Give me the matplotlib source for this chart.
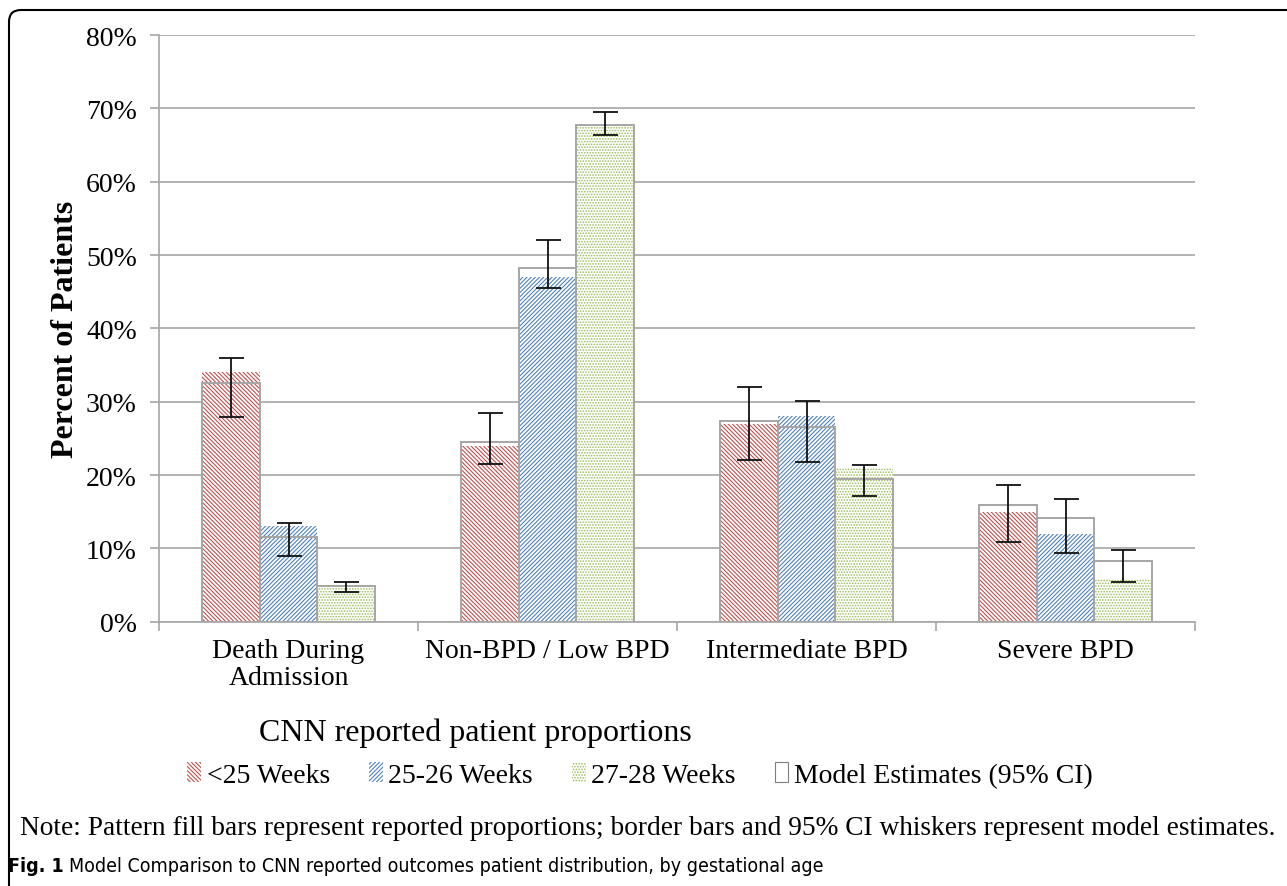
import numpy as np
import matplotlib
matplotlib.use("Agg")
import matplotlib.pyplot as plt
from matplotlib.patches import Patch, FancyBboxPatch


CATEGORIES = ["Death During\nAdmission", "Non-BPD / Low BPD", "Intermediate BPD", "Severe BPD"]
GROUPS = ["<25 Weeks", "25-26 Weeks", "27-28 Weeks"]

# reported proportions (%), pattern fill bars
REPORTED_LT25 = [34.0, 24.0, 27.0, 14.9]
REPORTED_25_26 = [13.0, 47.0, 28.0, 12.0]
REPORTED_27_28 = [4.8, 67.7, 20.9, 5.8]

# model estimates (%), border bars
MODEL_LT25 = [32.5, 24.5, 27.3, 15.9]
MODEL_25_26 = [11.5, 48.2, 26.5, 14.1]
MODEL_27_28 = [4.8, 67.7, 19.5, 8.3]

# 95% CI of the model estimates (%)
CI_LOW_LT25 = [27.9, 21.5, 22.0, 10.8]
CI_HIGH_LT25 = [36.0, 28.5, 32.0, 18.7]
CI_LOW_25_26 = [9.0, 45.5, 21.8, 9.3]
CI_HIGH_25_26 = [13.4, 52.0, 30.1, 16.7]
CI_LOW_27_28 = [4.1, 66.3, 17.1, 5.4]
CI_HIGH_27_28 = [5.4, 69.5, 21.3, 9.8]

YTICKS = [0, 10, 20, 30, 40, 50, 60, 70, 80]

COLORS = ["#c0504d", "#4f81bd", "#9bbb59"]
HATCHES = ["\\" * 8, "/" * 8, "." * 6]
GRID = "#a6a6a6"

W, H = 1287, 887


def fx(px):
    return px / W


def fy(py):
    return 1 - py / H


def main():
    plt.rcParams["hatch.linewidth"] = 0.8
    serif = ["Liberation Serif", "DejaVu Serif"]

    fig = plt.figure(figsize=(W / 100, H / 100), dpi=100)
    ax = fig.add_axes([fx(159), fy(622.7), fx(1195) - fx(159), fy(36) - fy(622.7)])

    reported = [REPORTED_LT25, REPORTED_25_26, REPORTED_27_28]
    model = [MODEL_LT25, MODEL_25_26, MODEL_27_28]
    lows = [CI_LOW_LT25, CI_LOW_25_26, CI_LOW_27_28]
    highs = [CI_HIGH_LT25, CI_HIGH_25_26, CI_HIGH_27_28]

    x = np.arange(len(CATEGORIES))
    width = 0.222

    for i in range(3):
        pos = x + (i - 1) * width
        ax.bar(pos, reported[i], width=width, color="white", edgecolor=COLORS[i],
               hatch=HATCHES[i], linewidth=0, zorder=2)
        ax.bar(pos, model[i], width=width, fill=False, edgecolor=GRID,
               linewidth=1.4, zorder=3)
        m = np.array(model[i])
        yerr = [m - np.array(lows[i]), np.array(highs[i]) - m]
        ax.errorbar(pos, m, yerr=yerr, fmt="none", ecolor="#111111",
                    elinewidth=1.3, capsize=9, capthick=1.3, zorder=4)

    ax.set_xlim(-0.5, len(CATEGORIES) - 0.5)
    ax.set_ylim(0, 80)
    ax.set_yticks(YTICKS)
    ax.set_yticklabels([f"{t}%" for t in YTICKS], fontfamily=serif, fontsize=20)
    ax.set_xticks(x)
    ax.set_xticklabels(CATEGORIES, fontfamily=serif, fontsize=20, linespacing=1.1)
    ax.set_xticks(np.arange(len(CATEGORIES) + 1) - 0.5, minor=True)
    ax.tick_params(axis="x", which="major", length=0, pad=12)
    ax.tick_params(axis="x", which="minor", length=6.5, color=GRID, width=1.2)
    ax.tick_params(axis="y", length=6.5, color=GRID, width=1.2, pad=9.5)

    ax.grid(axis="y", color=GRID, linewidth=1.2)
    ax.set_axisbelow(True)
    for side in ["top", "right"]:
        ax.spines[side].set_visible(False)
    for side in ["left", "bottom"]:
        ax.spines[side].set_color(GRID)
        ax.spines[side].set_linewidth(1.2)

    ax.set_ylabel("Percent of Patients", fontfamily=serif, fontsize=23,
                  fontweight="bold", labelpad=4.5)

    fig.text(fx(475), fy(733), "CNN reported patient proportions", ha="center",
             va="center", fontfamily=serif, fontsize=23)

    handles = [Patch(facecolor="white", edgecolor=COLORS[i], hatch=HATCHES[i], linewidth=0)
               for i in range(3)]
    handles.append(Patch(facecolor="white", edgecolor="#7f7f7f", linewidth=0.8))
    labels = GROUPS + ["Model Estimates (95% CI)"]
    fig.legend(handles, labels, loc="center", bbox_to_anchor=(fx(640), fy(776)),
               ncol=4, frameon=False, prop={"family": serif, "size": 20},
               handlelength=0.5, handleheight=0.7, handletextpad=0.2,
               columnspacing=1.4)

    fig.text(fx(20), fy(829),
             "Note: Pattern fill bars represent reported proportions; border bars and 95% CI whiskers represent model estimates.",
             ha="left", va="center", fontfamily=serif, fontsize=19.7)

    sans = ["DejaVu Sans"]
    t1 = fig.text(fx(8), fy(867), "Fig. 1", ha="left", va="center",
                  fontfamily=sans, fontstretch="condensed", fontsize=14, fontweight="bold")
    fig.canvas.draw()
    bb = t1.get_window_extent()
    fig.text((bb.x1 + 5) / W, fy(867),
             "Model Comparison to CNN reported outcomes patient distribution, by gestational age",
             ha="left", va="center", fontfamily=sans, fontstretch="condensed", fontsize=14)

    # rounded frame around the figure, open on the right and bottom
    frame = FancyBboxPatch((9, -60), 1400, H - 11 + 60,
                           boxstyle="round,pad=0,rounding_size=12",
                           transform=None, fill=False, edgecolor="black", linewidth=1.5)
    fig.patches.append(frame)

    fig.savefig("out.png", dpi=100)
    plt.close(fig)


if __name__ == "__main__":
    main()
